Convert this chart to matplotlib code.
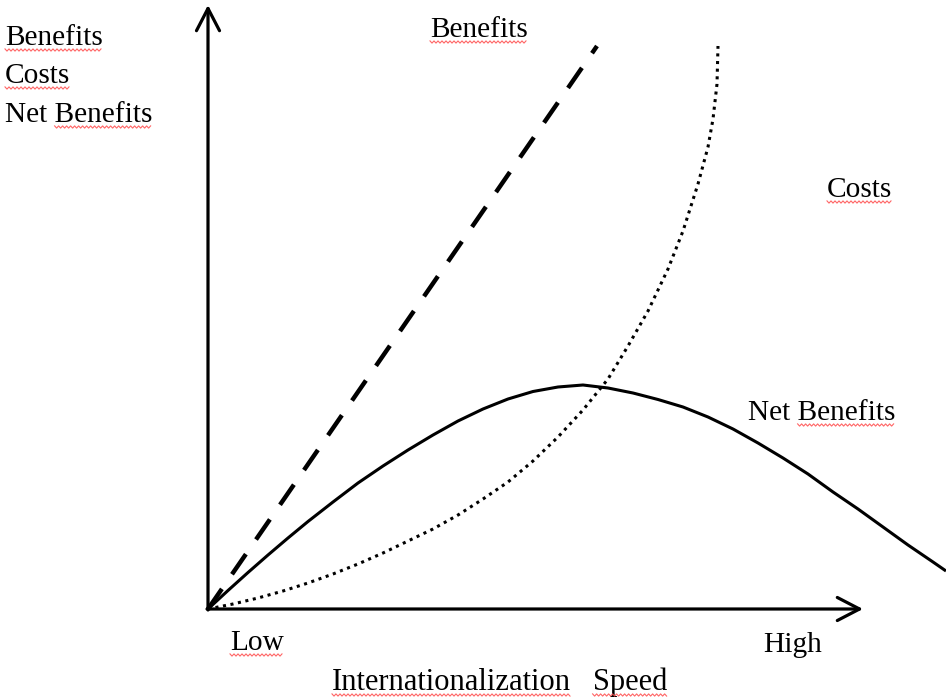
import matplotlib
matplotlib.use("Agg")
import matplotlib.pyplot as plt
import numpy as np
from matplotlib.lines import Line2D
from matplotlib.transforms import IdentityTransform

# ---- data (offsets from origin) ----
benefits_x = [0, 389]
benefits_y = [0, 563]

costs_x = [0, 25, 50, 75, 100, 125, 150, 175, 200, 225, 250, 275, 300, 325, 350, 375,
           400, 420, 440, 460, 475, 490, 500, 505, 509, 510]
costs_y = [0, 5, 11, 18, 26, 35, 45, 56, 68, 80, 94, 110, 127, 148, 172, 199,
           230, 263, 298, 340, 378, 425, 462, 490, 525, 563]

net_x = [0, 20, 40, 60, 80, 100, 125, 150, 175, 200, 225, 250, 275, 300, 325, 350, 375,
         400, 425, 450, 475, 500, 525, 550, 575, 600, 625, 650, 675, 700, 725, 738]
net_y = [0, 18.5, 36.5, 54, 71, 87.5, 107, 126, 143, 159, 174, 188, 200, 210, 217.5, 222, 224,
         221, 216, 209.5, 202, 192, 180, 166, 151, 135, 117, 100, 82, 64, 47, 38]

W, H = 946, 698
ox, oy = 208, 609  # origin pixel

fig = plt.figure(figsize=(W / 100, H / 100), dpi=100)
ax = fig.add_axes([ox / W, (H - oy) / H, (W - ox) / W, oy / H])
ax.set_xlim(0, W - ox)
ax.set_ylim(0, oy)
ax.axis("off")

ax.plot(benefits_x, benefits_y, color="black", lw=3.2, linestyle=(0, (5.5, 4)),
        dash_capstyle="butt", clip_on=False)
ax.plot(costs_x, costs_y, color="black", lw=2.2, linestyle=(0, (1, 1.5)),
        clip_on=False)
ax.plot(net_x, net_y, color="black", lw=2.2, clip_on=False, solid_capstyle="butt",
        solid_joinstyle="round")

arrow = dict(arrowstyle="->,head_length=1.6,head_width=0.83", lw=2.3, color="black",
             shrinkA=0, shrinkB=0, mutation_scale=10)
ax.annotate("", xy=(0, 604), xytext=(0, -1), xycoords="data", arrowprops=arrow,
            annotation_clip=False)
ax.annotate("", xy=(655, 0), xytext=(-1, 0), xycoords="data", arrowprops=arrow,
            annotation_clip=False)

FONT = "Liberation Serif"
FS = 21.2


def px(x, y):
    """pixel (top-left origin) -> data offsets"""
    return x - ox, oy - y


labels = []  # (text, x, y, underline-mode, ha, fontsize)
labels.append(("Benefits", 5, 45, "all", "left", FS))
labels.append(("Costs", 5, 83, "all", "left", FS))
labels.append(("Net Benefits", 5, 122, "last", "left", FS))
labels.append(("Benefits", 430, 37, "all", "left", FS))
labels.append(("Costs", 827, 197, "all", "left", FS))
labels.append(("Net Benefits", 748, 420, "last", "left", FS))
labels.append(("Low", 230, 650, "all", "left", FS))
labels.append(("High", 763, 652, None, "left", FS))
labels.append(("Internationalization", 332, 690, "all", "left", 22))
labels.append(("Speed", 667, 690, "all", "right", 22))

texts = []
for s, x, y, mode, ha, fs in labels:
    dx, dy = px(x, y)
    t = ax.text(dx, dy, s, fontfamily=FONT, fontsize=fs, ha=ha, va="baseline",
                clip_on=False)
    texts.append((t, s, y, mode, fs))

fig.canvas.draw()
r = fig.canvas.get_renderer()


def width_of(s, fs):
    tt = ax.text(0, 0, s, fontfamily=FONT, fontsize=fs)
    w = tt.get_window_extent(r).width
    tt.remove()
    return w


def zigzag(x0, x1, ybase_top):
    yd = H - ybase_top - 5
    xs = np.arange(x0, x1 + 0.1, 2.0)
    ys = yd + np.where(np.arange(len(xs)) % 2 == 0, 1.1, -1.1)
    fig.add_artist(Line2D(xs, ys, transform=IdentityTransform(), color="#ff4a4a",
                          lw=0.8, alpha=0.85))


for t, s, ybl, mode, fs in texts:
    if mode is None:
        continue
    bb = t.get_window_extent(r)
    if mode == "all":
        zigzag(bb.x0, bb.x1, ybl)
    elif mode == "last":
        wl = width_of(s.split(" ")[-1], fs)
        zigzag(bb.x1 - wl, bb.x1, ybl)

fig.savefig("out.png", dpi=100)
